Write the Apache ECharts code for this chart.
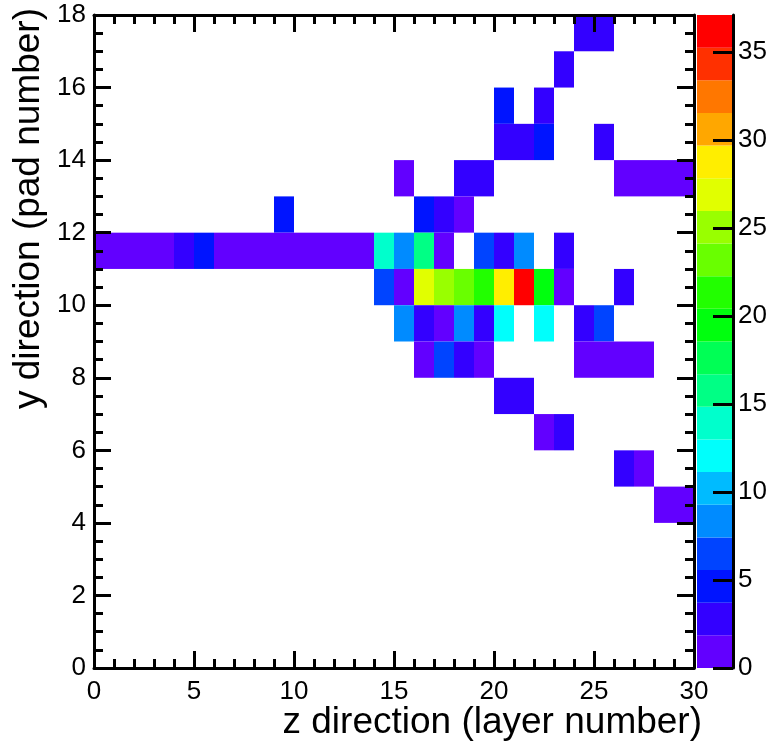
<!DOCTYPE html>
<html>
<head>
<meta charset="utf-8">
<script src="https://cdn.jsdelivr.net/npm/echarts@6/dist/echarts.min.js"></script>
<style>
  html, body { margin: 0; padding: 0; background: #fff; }
  #chart { width: 772px; height: 749px; }
</style>
</head>
<body>
<div id="chart"></div>
<script>
// [layer, pad, counts] for every filled bin
const hits = [
  [24, 17, 3], [25, 17, 3],
  [23, 16, 3],
  [20, 15, 5], [22, 15, 3],
  [20, 14, 3], [21, 14, 3], [22, 14, 5], [25, 14, 3],
  [15, 13, 1], [18, 13, 3], [19, 13, 3], [26, 13, 1], [27, 13, 1], [28, 13, 1], [29, 13, 1],
  [9, 12, 5], [16, 12, 5], [17, 12, 3], [18, 12, 1],
  [0, 11, 1], [1, 11, 1], [2, 11, 1], [3, 11, 1], [4, 11, 3], [5, 11, 5], [6, 11, 1],
  [7, 11, 1], [8, 11, 1], [9, 11, 1], [10, 11, 1], [11, 11, 1], [12, 11, 1], [13, 11, 1],
  [14, 11, 14], [15, 11, 8], [16, 11, 16], [17, 11, 1], [19, 11, 6], [20, 11, 3],
  [21, 11, 8], [23, 11, 3],
  [14, 10, 6], [15, 10, 1], [16, 10, 27], [17, 10, 25], [18, 10, 23], [19, 10, 21],
  [20, 10, 29], [21, 10, 37.1], [22, 10, 19.5], [23, 10, 1], [26, 10, 3],
  [15, 9, 8], [16, 9, 3], [17, 9, 1], [18, 9, 8], [19, 9, 3], [20, 9, 12], [22, 9, 12],
  [24, 9, 3], [25, 9, 6],
  [16, 8, 1], [17, 8, 6], [18, 8, 3], [19, 8, 1], [24, 8, 1], [25, 8, 1], [26, 8, 1], [27, 8, 1],
  [20, 7, 3], [21, 7, 3],
  [22, 6, 1], [23, 6, 3],
  [26, 5, 3], [27, 5, 1],
  [28, 4, 1], [29, 4, 1],
]

const zMax = 37.1
const paletteTicks = [0, 5, 10, 15, 20, 25, 30, 35]

// ROOT "pretty" palette, 20 contour levels
const palette = [
  '#6200ff', '#3300ff', '#0014ff', '#0044ff', '#008bff',
  '#00bbff', '#00fffc', '#00ffcc', '#00ff85', '#00ff55',
  '#00ff0e', '#22ff00', '#69ff00', '#99ff00', '#e1ff00',
  '#ffee00', '#ffa700', '#ff7700', '#ff3000', '#ff0000',
]

const step = zMax / palette.length
const FONT = '"Liberation Sans", Arial, Helvetica, sans-serif'
const black = '#000'

const pieces = palette.map((color, k) => ({
  gte: k * step,
  lt: k === palette.length - 1 ? zMax + 1 : (k + 1) * step,
  color,
}))

function frameAxis(extra) {
  return Object.assign({
    type: 'value',
    z: 10,
    axisLine: { show: true, onZero: false, lineStyle: { color: black, width: 3 } },
    axisTick: { show: true, inside: true, length: 17, lineStyle: { color: black, width: 3 } },
    minorTick: { show: true, length: 9, lineStyle: { color: black, width: 3 } },
    splitLine: { show: false },
    axisLabel: { show: false },
  }, extra)
}

const labelStyle = { show: true, color: black, fontSize: 26, fontFamily: FONT }

const chart = echarts.init(document.getElementById('chart'))

chart.setOption({
  animation: false,
  backgroundColor: '#fff',
  grid: [
    { left: 94, top: 15, width: 600, height: 653 },
    { left: 697, top: 15, width: 36, height: 653 },
  ],
  visualMap: {
    type: 'piecewise',
    show: false,
    seriesIndex: 0,
    dimension: 2,
    pieces,
  },
  xAxis: [
    frameAxis({ gridIndex: 0, position: 'bottom', min: 0, max: 30, interval: 5,
      minorTick: { show: true, splitNumber: 5, length: 9, lineStyle: { color: black, width: 3 } },
      axisLabel: Object.assign({ margin: 11 }, labelStyle) }),
    frameAxis({ gridIndex: 0, position: 'top', min: 0, max: 30, interval: 5,
      minorTick: { show: true, splitNumber: 5, length: 9, lineStyle: { color: black, width: 3 } } }),
    { type: 'category', gridIndex: 1, data: ['z'], show: false },
  ],
  yAxis: [
    frameAxis({ gridIndex: 0, position: 'left', min: 0, max: 18, interval: 2,
      minorTick: { show: true, splitNumber: 4, length: 9, lineStyle: { color: black, width: 3 } },
      axisLabel: Object.assign({ margin: 8 }, labelStyle) }),
    frameAxis({ gridIndex: 0, position: 'right', min: 0, max: 18, interval: 2,
      minorTick: { show: true, splitNumber: 4, length: 9, lineStyle: { color: black, width: 3 } } }),
    {
      type: 'value',
      gridIndex: 1,
      position: 'right',
      min: 0,
      max: zMax,
      z: 10,
      axisLine: { show: true, lineStyle: { color: black, width: 3 } },
      axisTick: { show: true, inside: true, length: 20, customValues: paletteTicks,
        lineStyle: { color: black, width: 3 } },
      splitLine: { show: false },
      axisLabel: Object.assign({ margin: 5, customValues: paletteTicks }, labelStyle),
    },
  ],
  series: [
    {
      type: 'custom',
      xAxisIndex: 0,
      yAxisIndex: 0,
      z: 2,
      clip: true,
      encode: { x: 0, y: 1 },
      data: hits,
      renderItem(params, api) {
        const p0 = api.coord([api.value(0), api.value(1) + 1])
        const p1 = api.coord([api.value(0) + 1, api.value(1)])
        return {
          type: 'rect',
          shape: { x: p0[0], y: p0[1], width: p1[0] - p0[0], height: p1[1] - p0[1] },
          style: { fill: api.visual('color') },
        }
      },
    },
    ...palette.map((color) => ({
      type: 'bar',
      xAxisIndex: 2,
      yAxisIndex: 2,
      stack: 'palette',
      barWidth: '100%',
      silent: true,
      itemStyle: { color },
      data: [step],
    })),
  ],
  graphic: [
    {
      type: 'text',
      right: 70,
      top: 704,
      style: { text: 'z direction (layer number)', font: '37px ' + FONT, fill: black },
    },
    {
      type: 'text',
      x: 10,
      y: 8,
      rotation: Math.PI / 2,
      style: {
        text: 'y direction (pad number)',
        font: '37px ' + FONT,
        fill: black,
        align: 'right',
        verticalAlign: 'top',
      },
    },
  ],
})
</script>
</body>
</html>
